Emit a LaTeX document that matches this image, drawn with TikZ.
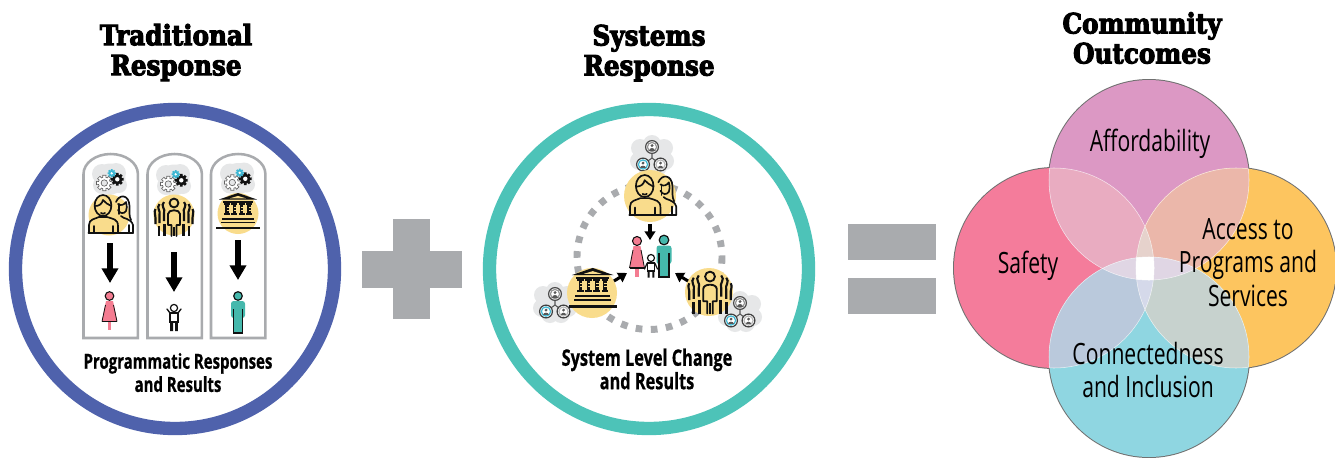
\documentclass[tikz,border=0pt]{standalone}
\usepackage{fontspec}
\usetikzlibrary{arrows.meta}
\newfontfamily\condfont[FakeStretch=0.72]{Open Sans}
\newfontfamily\capfont[FakeStretch=0.72,FakeBold=0.7]{Open Sans}
\newfontfamily\slabfont[FakeStretch=0.88,FakeBold=3.6]{DejaVu Serif}
\definecolor{ringblue}{HTML}{4F62AC}
\definecolor{ringteal}{HTML}{4DC3B8}
\definecolor{signgray}{HTML}{A9ABAE}
\definecolor{archgray}{HTML}{A9ABAE}
\definecolor{cloudgray}{HTML}{E6E7E8}
\definecolor{disc}{HTML}{F9DC8C}
\definecolor{ink}{HTML}{111111}
\definecolor{gearblue}{HTML}{3DB7D3}
\definecolor{fempink}{HTML}{F47C91}
\definecolor{manteal}{HTML}{45B8AC}
\definecolor{vL}{HTML}{F47C9B}
\definecolor{vT}{HTML}{DC98C4}
\definecolor{vR}{HTML}{FDC55F}
\definecolor{vB}{HTML}{8FD6E1}
\definecolor{vLT}{HTML}{E9ACC1}
\definecolor{vLB}{HTML}{BAC9DC}
\definecolor{vRT}{HTML}{EBB7AA}
\definecolor{vRB}{HTML}{C7D2CE}
\definecolor{vTB}{HTML}{E0D6E4}
\definecolor{vLRT}{HTML}{E6D2CC}
\definecolor{vLRB}{HTML}{D5D9EA}
\def\cL{(1054,268) circle (100)}
\def\cT{(1149,180) circle (100)}
\def\cR{(1236,268) circle (100)}
\def\cB{(1149,357) circle (100)}
\def\gearP#1#2#3{([shift={(#1,#2)}]-12:#3) \foreach \k in {0,45,...,315}{ -- ([shift={(#1,#2)}]\k-12:#3) -- ([shift={(#1,#2)}]\k+12:#3) -- ([shift={(#1,#2)}]\k+15:#3*.74) -- ([shift={(#1,#2)}]\k+30:#3*.74) } -- cycle}
\tikzset{
  ico/.style={draw=ink,line width=1.25pt,line join=round,line cap=round},
  title/.style={font=\slabfont\bfseries\fontsize{21}{22.5}\selectfont,align=center,text=black,inner sep=0pt},
  capt/.style={font=\capfont\bfseries\fontsize{15.6}{17.4}\selectfont,align=center,inner sep=0pt},
  capb/.style={font=\capfont\bfseries\fontsize{17}{17.6}\selectfont,align=center,inner sep=0pt},
  lab/.style={font=\condfont\fontsize{22}{25.4}\selectfont,align=center,inner sep=0pt},
  bigarrow/.style={-{Triangle[length=11pt,width=12pt]},line width=4.4pt,draw=black},
  smallarrow/.style={-{Triangle[length=6.5pt,width=8pt]},line width=2.3pt,draw=black},
  ring/.style={line width=10pt,fill=white},
  arch/.style={draw=archgray,line width=1.9pt,fill=white},
  signbar/.style={fill=signgray,draw=none},
  pics/gears/.style={code={
    \fill[cloudgray] (0,-4) circle (15.5) (-8,-9) circle (10) (6,-10) circle (10) (9,2) circle (8) (-8,2) circle (9) (0,3) circle (9);
    \draw[draw=ink!65,line width=.5pt,fill=white] \gearP{-5.7}{0}{8};
    \draw[draw=ink!65,line width=.5pt,fill=cloudgray] (-5.7,0) circle (3.2);
    \fill[ink] \gearP{7.3}{-3.7}{6.5};
    \fill[white] (7.3,-3.7) circle (2.2);
    \fill[gearblue] \gearP{1.7}{-9.7}{4.2};
    \fill[white] (1.7,-9.7) circle (1.3);
  }},
  pics/network/.style={code={
    \fill[cloudgray] (-12,-8) circle (9) (0,-12) circle (9) (12,-8) circle (9) (-13,5) circle (9) (13,5) circle (9) (-5,11) circle (9) (6,11) circle (9) (0,0) circle (14);
    \draw[ink!70,line width=.8pt] (0,-8) -- (0,2) -- (-9,8.5) (0,2) -- (8.5,8.5);
    \foreach \px/\py/\rc/\fc in {0/-9/ink!75/ink!45,-9/8.5/ink!80/gearblue,8.5/8.5/ink!80/ink!30}{
      \draw[\rc,fill=white,line width=.9pt] (\px,\py) circle (6.4);
      \draw[\fc,line width=.9pt,fill=white] (\px,\py) circle (4.6);
      \fill[ink!70] (\px,\py-1.4) circle (1.6);
      \fill[ink!70] (\px-2.8,\py+3.6) .. controls (\px-2.8,\py+.2) and (\px+2.8,\py+.2) .. (\px+2.8,\py+3.6) -- cycle;
    }
  }},
  pics/couple/.style={code={
    \draw[ico] (7,-13) .. controls (10,-21) and (20,-21) .. (20.5,-9) .. controls (20.5,-3) and (20,1) .. (22,5);
    \draw[ico] (9,-11) .. controls (12,-9) and (15,-10) .. (17,-13) .. controls (18,-9) and (18,-6) .. (17,-4) .. controls (15,-1) and (11,-1) .. (9,-5);
    \draw[ico] (10,-11) -- (10,-1);
    \draw[ico] (12,1) .. controls (14,4) and (22,3) .. (24,10) -- (24,18);
    \draw[ico] (20,10) -- (20,18);
    \draw[ico,line width=1.4pt] (8,18) -- (24,18);
    \draw[ico,fill=disc] (-20,18) -- (-20,10) .. controls (-20,4) and (-14,4) .. (-10,2) -- (-2,2) .. controls (4,4) and (9,4) .. (9,11) -- (9,18) -- cycle;
    \draw[ico] (-15,11) -- (-15,18) (4,11) -- (4,18);
    \draw[ico,fill=disc] (-6,-9.5) ellipse (8.4 and 10.5);
    \draw[ico] (-13.5,-9) .. controls (-10,-9) and (-7,-11) .. (-6,-15) .. controls (-4,-12) and (-1,-11) .. (2.2,-9);
    \draw[ico] (-8,-2) .. controls (-7,-1) and (-5,-1) .. (-4,-2);
    \draw[ico,line width=1.5pt] (-20.5,18) -- (9.5,18);
  }},
  pics/crowd/.style={code={
    \foreach \s in {-1,1}{
      \begin{scope}[xscale=\s]
      \draw[ink,line width=1.6pt] (10,-13) .. controls (14,-9) and (8,-6) .. (10,-2) -- (10,6);
      \draw[ink,line width=1.6pt] (14.5,-11) .. controls (18,-7) and (13,-4) .. (14.5,0) -- (14.5,8);
      \draw[ink,line width=1.6pt] (18.5,-6) .. controls (20.5,-3) and (18,0) .. (18.5,3) -- (18.5,9);
      \draw[ink,line width=2.1pt] (9.5,9) -- (9.5,21);
      \draw[ink,line width=2.1pt] (15,11) -- (15,21);
      \end{scope}
    }
    \draw[ico,line width=1.4pt] (0,-12) circle (4.4);
    \draw[ico,line width=1.4pt] (-2.5,21) -- (-2.5,10) -- (-6,10) -- (-6,-1) .. controls (-6,-6) and (6,-6) .. (6,-1) -- (6,10) -- (2.5,10) -- (2.5,21);
    \draw[ink,line width=1.2pt] (0,12) -- (0,21);
  }},
  pics/bank/.style={code={
    \fill[ink] (0,-20.5) -- (19,-14) -- (-19,-14) -- cycle;
    \fill[disc] (0,-17.6) -- (8,-15.2) -- (-8,-15.2) -- cycle;
    \fill[ink] (-15,-12.4) rectangle (15,-10.8);
    \foreach \c in {-11,-3.7,3.7,11}{
      \fill[ink] (\c-3,-10.2) rectangle (\c+3,-8.2);
      \fill[ink] (\c-1.6,-9) rectangle (\c+1.6,1);
      \fill[ink] (\c-3,-.5) rectangle (\c+3,1.6);
      \fill[disc] (\c-.4,-6.8) rectangle (\c+1.6,-5.8);
      \fill[disc] (\c-.4,-3.8) rectangle (\c+1.6,-2.8);
    }
    \fill[ink] (-16,4.4) rectangle (16,6);
    \fill[ink] (-17,8) rectangle (17,9.6);
    \fill[ink] (-22,13.6) rectangle (22,15.6);
  }},
}
\begin{document}
\begin{tikzpicture}[x=0.75pt,y=-0.75pt]
\useasboundingbox (0,0) rectangle (1335,457);
% titles
\node[title] (t1) at (176,52.5) {Traditional\\Response};
\node[title] (t2) at (649,53) {Systems\\Response};
\node[title] (t3) at (1142,38) {Community\\Outcomes};
% rings
\draw[ringblue,ring] (175,269) circle (159.5);
\draw[ringteal,ring] (649,269) circle (159.5);
% arches
\foreach \x in {83.5,147.5,211}{
  \draw[arch] (\x,338) -- (\x,174) arc[start angle=180,end angle=360,x radius=27.2,y radius=20] -- (\x+54.4,338) -- cycle;
}
% columns
\pic at (110,183) {gears};
\fill[disc] (109,215) circle (20.5);
\pic at (109,215) {couple};
\pic at (174,184) {gears};
\fill[disc] (174,215) circle (20.5);
\pic at (174,215) {crowd};
\pic at (238,182.5) {gears};
\fill[disc] (238,213.5) circle (20.5);
\pic at (238,213.5) {bank};
\coordinate (a1s) at (110,243); \coordinate (a1e) at (110,283);
\coordinate (a2s) at (174,252); \coordinate (a2e) at (174,292);
\coordinate (a3s) at (238,240); \coordinate (a3e) at (238,280);
\draw[bigarrow] (a1s) -- (a1e);
\draw[bigarrow] (a2s) -- (a2e);
\draw[bigarrow] (a3s) -- (a3e);
% figures, columns
\begin{scope}[shift={(109.5,296)}]
  \draw[ink,fill=fempink,line width=.8pt] (0,0) circle (4.3);
  \fill[fempink] (-1.8,24) rectangle (1.8,34) ;
  \fill[fempink] (-3,5) -- (3,5) -- (4.5,11) -- (6,17) -- (4.5,17) -- (-4.5,17) -- (-6,17) -- (-4.5,11) -- cycle;
  \fill[fempink] (-3.5,5) -- (3.5,5) -- (7.5,25.5) -- (-7.5,25.5) -- cycle;
  \draw[ink,line width=.8pt] (-7.5,25.5) -- (7.5,25.5);
  \draw[ink,line width=.6pt] (-7.5,25.5) -- (-4,9) (7.5,25.5) -- (4,9);
\end{scope}
\begin{scope}[shift={(174,308)}]
  \draw[ink,fill=white,line width=.9pt] (0,0) circle (3.6);
  \draw[ink,line width=1pt,fill=white] (-4,5) rectangle (4,14);
  \draw[ink,line width=1pt,line cap=round] (-4,5) -- (-7,1) (4,5) -- (7,1);
  \fill[ink] (-3.8,14) rectangle (-1,23) (1,14) rectangle (3.8,23);
\end{scope}
\begin{scope}[shift={(238,296)}]
  \draw[ink,fill=manteal,line width=.9pt] (0,0) circle (4.3);
  \fill[manteal,rounded corners=2pt] (-7,5) rectangle (7,22);
  \fill[manteal] (-4.5,10) rectangle (4.5,37);
  \draw[ink,line width=.9pt] (-4.5,13) -- (-4.5,37) -- (4.5,37) -- (4.5,13);
\end{scope}
\node[capt] (c1) at (178,372.5) {Programmatic Responses\\and Results};
% systems ring
\draw[signgray,line width=5.2pt,dash pattern=on 5pt off 6.35pt] (649.5,257) circle (72.5);
\pic at (652,156) {network};
\pic at (555,303) {network};
\pic at (740,312) {network};
\fill[disc] (650,196) circle (26);
\pic[scale=1.05] at (651,196) {couple};
\fill[disc] (592,293) circle (25);
\pic[scale=1.1] at (592.7,290.5) {bank};
\fill[disc] (709,292) circle (24);
\pic[scale=1.12] at (710,290) {crowd};
% family
\begin{scope}[shift={(637,241)}]
  \draw[ink,fill=fempink,line width=.8pt] (0,0) circle (4.5);
  \fill[fempink] (-1.8,24) rectangle (1.8,36);
  \fill[fempink] (-3.5,5) -- (3.5,5) -- (7.5,27) -- (-7.5,27) -- cycle;
  \draw[ink,line width=.8pt] (-7.5,27) -- (7.5,27);
  \draw[ink,line width=.6pt] (-7.5,27) -- (-4,9) (7.5,27) -- (4,9);
\end{scope}
\begin{scope}[shift={(664,240)}]
  \draw[ink,fill=manteal,line width=.9pt] (0,0) circle (4.8);
  \fill[manteal,rounded corners=2pt] (-7.5,5.5) rectangle (7.5,24);
  \fill[manteal] (-5,10) rectangle (5,37);
  \draw[ink,line width=.9pt] (-5,13) -- (-5,37) -- (5,37) -- (5,13);
\end{scope}
\begin{scope}[shift={(651,258)}]
  \draw[ink,fill=white,line width=.9pt] (0,0) circle (3.5);
  \draw[ink,line width=.9pt,fill=white] (-3.8,5) rectangle (3.8,13);
  \draw[ink,line width=.9pt,line cap=round] (-3.8,5) -- (-6.5,11) (3.8,5) -- (6.5,11);
  \fill[ink] (-3.4,13) rectangle (-1.4,19.5) (1.4,13) rectangle (3.4,19.5);
\end{scope}
\coordinate (s1) at (650,224); \coordinate (e1) at (650,240);
\coordinate (s2) at (614,281); \coordinate (e2) at (627,273);
\coordinate (s3) at (688,281); \coordinate (e3) at (675,273);
\draw[smallarrow] (s1) -- (e1);
\draw[smallarrow] (s2) -- (e2);
\draw[smallarrow] (s3) -- (e3);
\node[capb] (c2) at (647,369) {System Level Change\\and Results};
% plus, equals
\fill[signbar] (393,219) rectangle (430,319);
\fill[signbar] (362,251) rectangle (462,288);
\fill[signbar] (848,224) rectangle (936,260);
\fill[signbar] (848,278) rectangle (936,314);
% venn
\draw[ink!60,line width=1.5pt] \cL \cT \cR \cB;
\fill[vL] \cL; \fill[vT] \cT; \fill[vR] \cR; \fill[vB] \cB;
\begin{scope}\clip \cL; \fill[vLT] \cT; \fill[vLB] \cB; \end{scope}
\begin{scope}\clip \cR; \fill[vRT] \cT; \fill[vRB] \cB; \end{scope}
\begin{scope}\clip \cT; \clip \cB; \fill[vTB] (900,0) rectangle (1335,457); \end{scope}
\begin{scope}\clip \cL; \clip \cR; \fill[vLRT] \cT; \fill[vLRB] \cB; \end{scope}
\begin{scope}\clip \cL; \clip \cR; \clip \cT; \fill[white] \cB; \end{scope}
\begin{scope}[white,line width=.4pt,opacity=.7]
  \begin{scope}\clip \cL; \draw \cT; \draw \cB; \end{scope}
  \begin{scope}\clip \cR; \draw \cT; \draw \cB; \end{scope}
  \begin{scope}\clip \cT; \draw \cL; \draw \cR; \end{scope}
  \begin{scope}\clip \cB; \draw \cL; \draw \cR; \end{scope}
\end{scope}
\node[lab] (l1) at (1150,144) {Affordability};
\node[lab] (l2) at (1028,266) {Safety};
\node[lab] (l3) at (1248,262.5) {Access to\\Programs and\\Services};
\node[lab] (l4) at (1148,370) {Connectedness\\and Inclusion};
\end{tikzpicture}
\end{document}
